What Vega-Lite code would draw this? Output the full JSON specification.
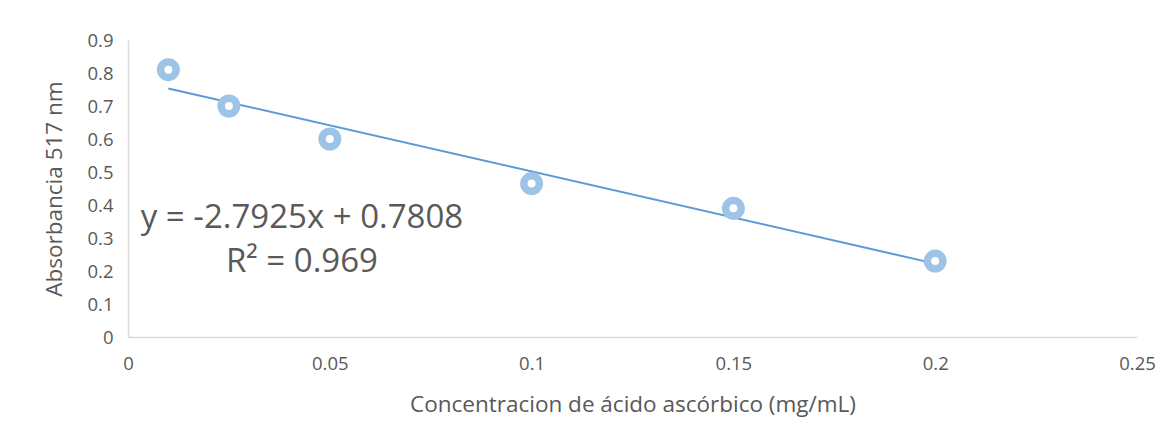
{
  "$schema": "https://vega.github.io/schema/vega-lite/v6.json",
  "autosize": "none",
  "width": 1009,
  "height": 297,
  "padding": {"left": 128, "top": 40, "right": 37, "bottom": 103},
  "background": "white",
  "config": {
    "view": {"stroke": null},
    "font": "Open Sans",
    "axis": {
      "grid": false,
      "ticks": false,
      "labelOverlap": false,
      "labelFlush": false,
      "domainColor": "#D9D9D9",
      "domainWidth": 1.5,
      "labelColor": "#595959",
      "titleColor": "#595959",
      "labelFont": "Open Sans",
      "titleFont": "Open Sans",
      "labelFontSize": 18.5,
      "titleFontSize": 22.5,
      "titleFontWeight": "normal"
    }
  },
  "datasets": {
    "obs": [
      {"conc": 0.01, "abs": 0.81},
      {"conc": 0.025, "abs": 0.70},
      {"conc": 0.05, "abs": 0.60},
      {"conc": 0.1, "abs": 0.465},
      {"conc": 0.15, "abs": 0.39},
      {"conc": 0.2, "abs": 0.23}
    ],
    "trend": [
      {"conc": 0.01, "abs": 0.7529},
      {"conc": 0.2, "abs": 0.2223}
    ],
    "labels": [
      {"conc": 0.0431, "abs": 0.36, "text": "y = -2.7925x + 0.7808"},
      {"conc": 0.0431, "abs": 0.227, "text": "R² = 0.969"}
    ]
  },
  "encoding": {
    "x": {
      "field": "conc", "type": "quantitative",
      "scale": {"domain": [0, 0.25], "nice": false},
      "axis": {"values": [0, 0.05, 0.1, 0.15, 0.2, 0.25], "format": "~g", "labelPadding": 17, "title": "Concentracion de ácido ascórbico (mg/mL)", "titlePadding": 21}
    },
    "y": {
      "field": "abs", "type": "quantitative",
      "scale": {"domain": [0, 0.9], "nice": false},
      "axis": {"values": [0, 0.1, 0.2, 0.3, 0.4, 0.5, 0.6, 0.7, 0.8, 0.9], "format": "~g", "labelPadding": 15, "labelOverlap": false, "title": "Absorbancia 517 nm", "titlePadding": 20}
    }
  },
  "layer": [
    {
      "data": {"name": "trend"},
      "mark": {"type": "line", "color": "#5B9BD5", "strokeWidth": 2}
    },
    {
      "data": {"name": "obs"},
      "mark": {"type": "point", "shape": "circle", "filled": false, "fill": "white", "fillOpacity": 1, "stroke": "#9DC3E6", "strokeWidth": 7.5, "size": 240, "opacity": 1}
    },
    {
      "data": {"name": "labels"},
      "mark": {"type": "text", "font": "Open Sans", "fontSize": 33, "color": "#595959", "align": "center", "baseline": "middle"},
      "encoding": {
        "text": {"field": "text"}
      }
    }
  ]
}
